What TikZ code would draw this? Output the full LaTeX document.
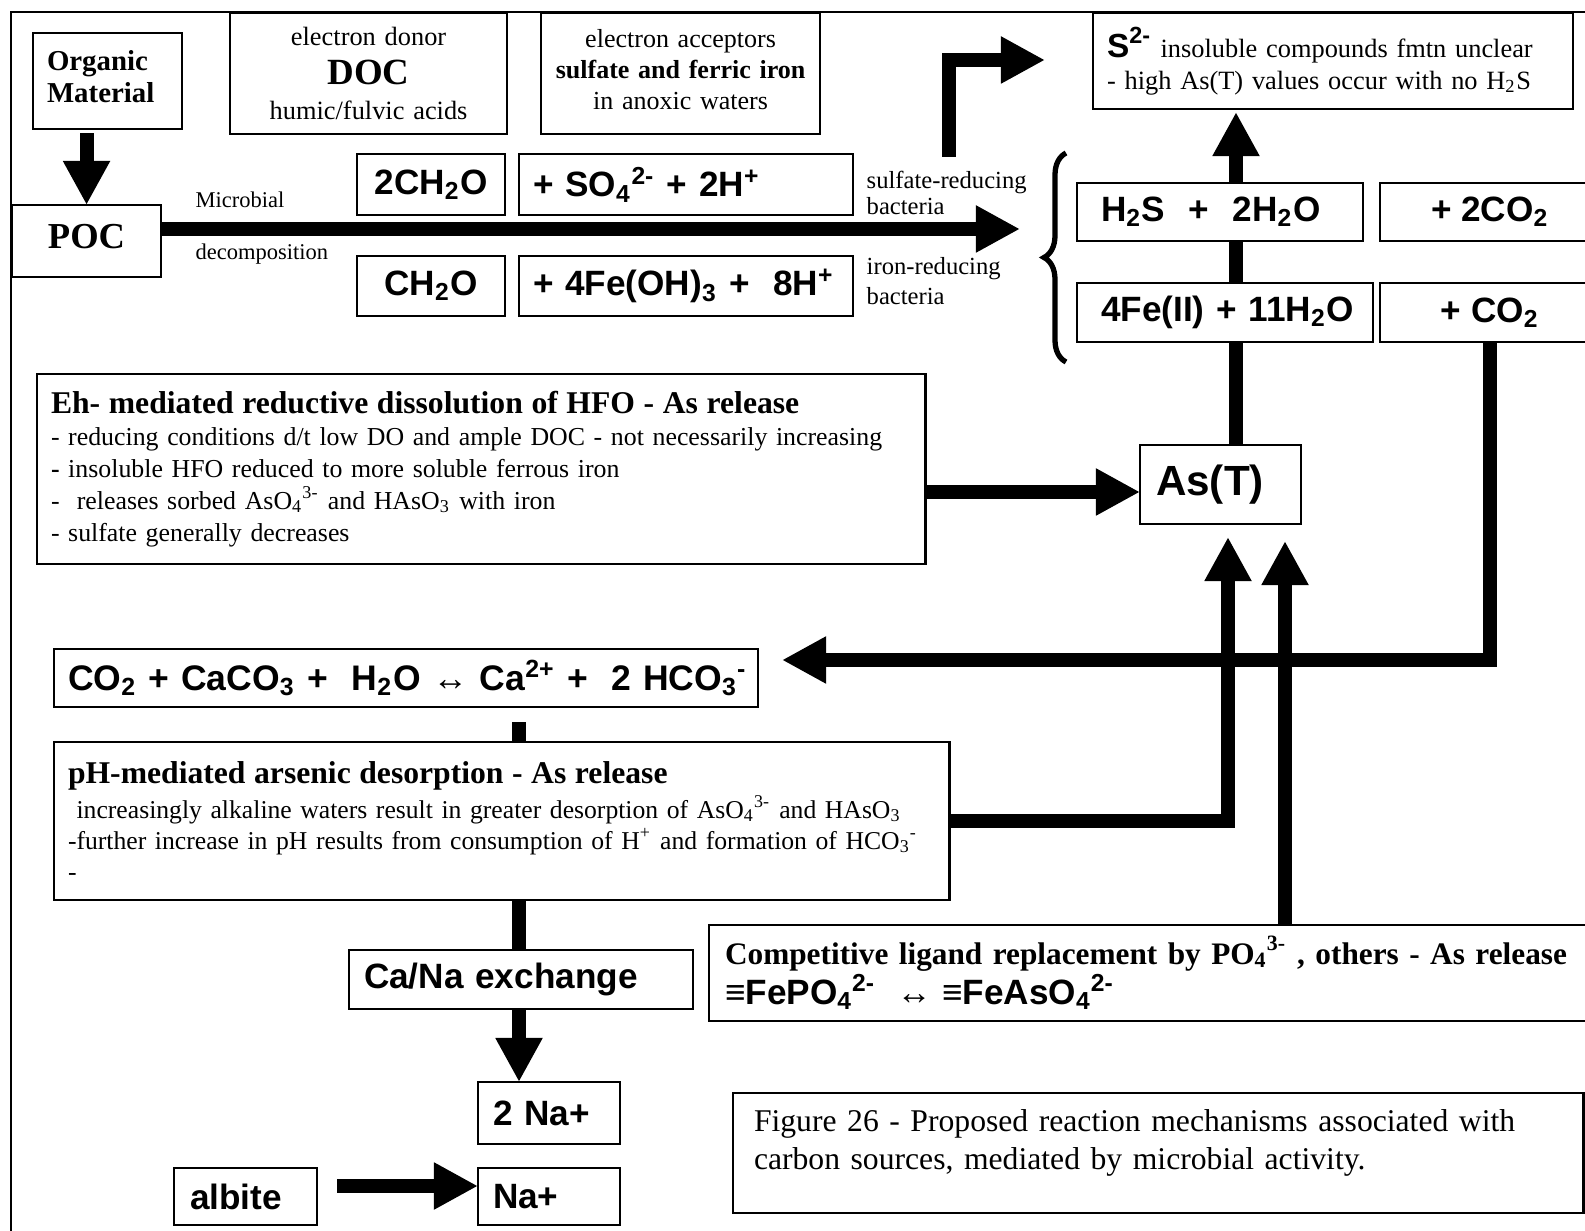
\documentclass[tikz,border=0pt]{standalone}
\usepackage{fontspec}
\setmainfont{Liberation Serif}
\setsansfont{Liberation Sans}
\usetikzlibrary{arrows.meta,decorations.pathreplacing,calc}
\newcommand{\myfs}[2]{\fontsize{#1pt}{#2pt}\selectfont}
\newcommand{\sbsp}[2]{\textsubscript{#1}\kern-0.02em\textsuperscript{#2}}
\tikzset{
  box/.style={draw, line width=0.6pt, fill=white, inner ysep=0pt, anchor=north west, outer sep=0pt},
  lbox/.style={box, align=left},
  cbox/.style={box, align=center},
  fat/.style={line width=0.14cm, line join=miter, -{Triangle[length=0.44cm,width=0.44cm]}},
  fatline/.style={line width=0.14cm},
  sfb/.style={font=\sffamily\bfseries\myfs{10}{12}},
  lab/.style={anchor=west, inner sep=0pt, align=left},
}
\begin{document}
\begin{tikzpicture}[x=0.01cm, y=-0.01cm]
\useasboundingbox (0,0) rectangle (1585,1231);
\clip (0,0) rectangle (1585,1231);
\fill[white] (0,0) rectangle (1585,1231);
% frame
\draw[line width=0.7pt] (11,1240) -- (11,12) -- (1600,12);

% top row
\node[lbox, inner xsep=0.14cm, text width=1.21cm, minimum height=0.96cm, font=\bfseries\myfs{8.2}{9.1}] (org) at (33,33) {Organic\\Material\\[-6.3pt]\mbox{}};
\node[cbox, minimum width=1.49cm, minimum height=0.72cm, font=\bfseries\myfs{10.4}{12}] (poc) at (12,205) {POC\\[-9.2pt]\mbox{}};
\node[cbox, text width=2.77cm, inner xsep=0pt, minimum height=1.21cm, font=\myfs{7.5}{9}] (doc) at (230,13) {electron donor\\[2pt]{\bfseries\myfs{10.5}{11}DOC}\\[1pt]humic/fulvic acids};
\node[cbox, text width=2.79cm, inner xsep=0pt, minimum height=1.21cm, font=\myfs{7.4}{8.8}] (acc) at (541,13) {electron acceptors\\{\bfseries sulfate and ferric iron}\\in anoxic waters\\[-6.5pt]\mbox{}};

% reaction boxes
\node[cbox, sfb, minimum width=1.48cm, minimum height=0.61cm] (c2) at (357,154) {2CH\textsubscript{2}O};
\node[lbox, sfb, inner xsep=0.14cm, text width=3.06cm, minimum height=0.61cm] (so4) at (519,154) {\mbox{+ SO\textsubscript{4}\textsuperscript{2-} + 2H\textsuperscript{+}}};
\node[cbox, sfb, minimum width=1.48cm, minimum height=0.60cm] (c1) at (357,256) {CH\textsubscript{2}O};
\node[lbox, sfb, inner xsep=0.14cm, text width=3.06cm, minimum height=0.60cm] (fe) at (519,256) {\mbox{+ 4Fe(OH)\textsubscript{3} +\ \ 8H\textsuperscript{+}}};

% labels
\node[lab, font=\myfs{6.4}{7}] (micro) at (195,200) {Microbial};
\node[lab, font=\myfs{6.4}{7}] (decomp) at (195,254) {decomposition};
\node[lab, font=\myfs{7}{7.6}] (srb) at (866,193) {sulfate-reducing\\bacteria};
\node[lab, font=\myfs{7}{8.3}] (irb) at (866,281) {iron-reducing\\bacteria};

% right side
\node[lbox, inner xsep=0.14cm, text width=4.52cm, minimum height=0.96cm, font=\myfs{7.5}{9.1}] (s2) at (1093,13) {{\sffamily\bfseries\myfs{9.5}{9.1}S\textsuperscript{2-}} insoluble compounds fmtn unclear\\- high As(T) values occur with no H\textsubscript{2}S};
\node[lbox, sfb, inner xsep=0.24cm, text width=2.38cm, minimum height=0.58cm] (h2s) at (1077,183) {\mbox{H\textsubscript{2}S\ \ +\ \ 2H\textsubscript{2}O}};
\node[cbox, sfb, minimum width=2.2cm, minimum height=0.58cm] (co2a) at (1380,183) {+ 2CO\textsubscript{2}};
\node[lbox, sfb, inner xsep=0.24cm, text width=2.48cm, minimum height=0.59cm] (fe2) at (1077,283) {\mbox{4Fe(II) + 11H\textsubscript{2}O}};
\node[cbox, sfb, minimum width=2.2cm, minimum height=0.59cm] (co2b) at (1380,283) {+ CO\textsubscript{2}};
\node[lbox, font=\sffamily\bfseries\myfs{12}{14}, inner xsep=0.16cm, text width=1.29cm, minimum height=0.79cm] (ast) at (1140,445) {As(T)};

% Eh box
\node[lbox, font=\myfs{7.35}{9.1}, inner xsep=0.14cm, text width=8.60cm, minimum height=1.90cm] (eh) at (37,374) {{\bfseries\myfs{9}{9.1}Eh- mediated reductive dissolution of HFO - As release}\\- reducing conditions d/t low DO and ample DOC - not necessarily increasing\\{\bfseries -} insoluble HFO reduced to more soluble ferrous iron\\-\ \ releases sorbed AsO\sbsp{4}{3-} and HAsO\textsubscript{3} with iron\\- sulfate generally decreases};

% equilibrium
\node[lbox, font=\sffamily\bfseries\myfs{10.1}{12}, inner xsep=0.14cm, text width=6.76cm, minimum height=0.58cm] (eq) at (54,649) {\mbox{CO\textsubscript{2} + CaCO\textsubscript{3} +\ \ H\textsubscript{2}O\ {\rmfamily\mdseries ↔}\ Ca\textsuperscript{2+} +\ \ 2 HCO\sbsp{3}{-}}};

% pH box
\node[lbox, font=\myfs{7.3}{8.8}, inner xsep=0.14cm, text width=8.67cm, minimum height=1.58cm] (ph) at (54,742) {{\bfseries\myfs{9}{8.8}pH-mediated arsenic desorption - As release}\\[1pt]\ increasingly alkaline waters result in greater desorption of AsO\sbsp{4}{3-} and HAsO\textsubscript{3}\\-further increase in pH results from consumption of H\textsuperscript{+} and formation of HCO\sbsp{3}{-}\\-};

% bottom left
\node[lbox, sfb, inner xsep=0.15cm, text width=3.14cm, minimum height=0.59cm] (cana) at (349,950) {\mbox{Ca/Na exchange}};
\node[lbox, sfb, inner xsep=0.15cm, text width=1.12cm, minimum height=0.62cm] (na2) at (478,1082) {\mbox{2 Na+}};
\node[lbox, sfb, inner xsep=0.16cm, text width=1.11cm, minimum height=0.57cm] (albite) at (174,1168) {albite};
\node[lbox, sfb, inner xsep=0.15cm, text width=1.12cm, minimum height=0.57cm] (na1) at (478,1168) {Na+};

% competitive + caption
\node[lbox, font=\myfs{8.9}{11.4}, inner xsep=0.16cm, text width=8.59cm, minimum height=0.96cm] (comp) at (709,925) {{\bfseries Competitive ligand replacement by PO\sbsp{4}{3-} , others - As release}\\{\sffamily\bfseries\myfs{10}{11.4}≡FePO\sbsp{4}{2-}\ \ {\rmfamily\mdseries ↔} ≡FeAsO\sbsp{4}{2-}}};
\node[lbox, font=\myfs{9}{11}, inner xsep=0.21cm, text width=8.08cm, minimum height=1.20cm] (cap) at (733,1093) {Figure 26 - Proposed reaction mechanisms associated with\\carbon sources, mediated by microbial activity.\\[-3.3pt]\mbox{}};

% brace
\draw[line width=1.5pt, decorate, decoration={brace, amplitude=0.22cm}] (1066,362) -- (1066,153);

% connectors
\coordinate (braceTip) at (1020,229);
\draw[fat] (poc.east |- braceTip) -- (braceTip);
\draw[fat] ($(org.south -| poc.north)+(0,4)$) -- (poc.north);
\coordinate (bentS) at (949,157);
\coordinate (bentE) at (1045,60);
\draw[fat] (bentS) |- (bentE);
\coordinate (vAs) at (1236,0);
\draw[fatline] (ast.north -| vAs) -- (fe2.south -| vAs);
\draw[fatline] (fe2.north -| vAs) -- (h2s.south -| vAs);
\draw[fat] (h2s.north -| vAs) -- ($(s2.south -| vAs)+(0,3)$);
\coordinate (eqTip) at (782,660);
\draw[fat] (co2b.south) |- (eqTip);
\coordinate (ehY) at (0,492);
\draw[fat] (eh.east |- ehY) -- (ast.west |- ehY);
\coordinate (vx) at (519,0);
\draw[fatline] ($(eq.south -| vx)+(0,15)$) -- (ph.north -| vx);
\coordinate (phY) at (0,821);
\coordinate (a1) at (1228,537);
\draw[fat] (ph.east |- phY) -| (a1);
\coordinate (a2) at (1285,541);
\draw[fat] (comp.north -| a2) -- (a2);
\draw[fatline] (ph.south -| vx) -- (cana.north -| vx);
\draw[fat] (cana.south -| vx) -- (na2.north -| vx);
\coordinate (alY) at (0,1186);
\draw[fat] ($(albite.east |- alY)+(20,0)$) -- (na1.west |- alY);
\end{tikzpicture}
\end{document}
